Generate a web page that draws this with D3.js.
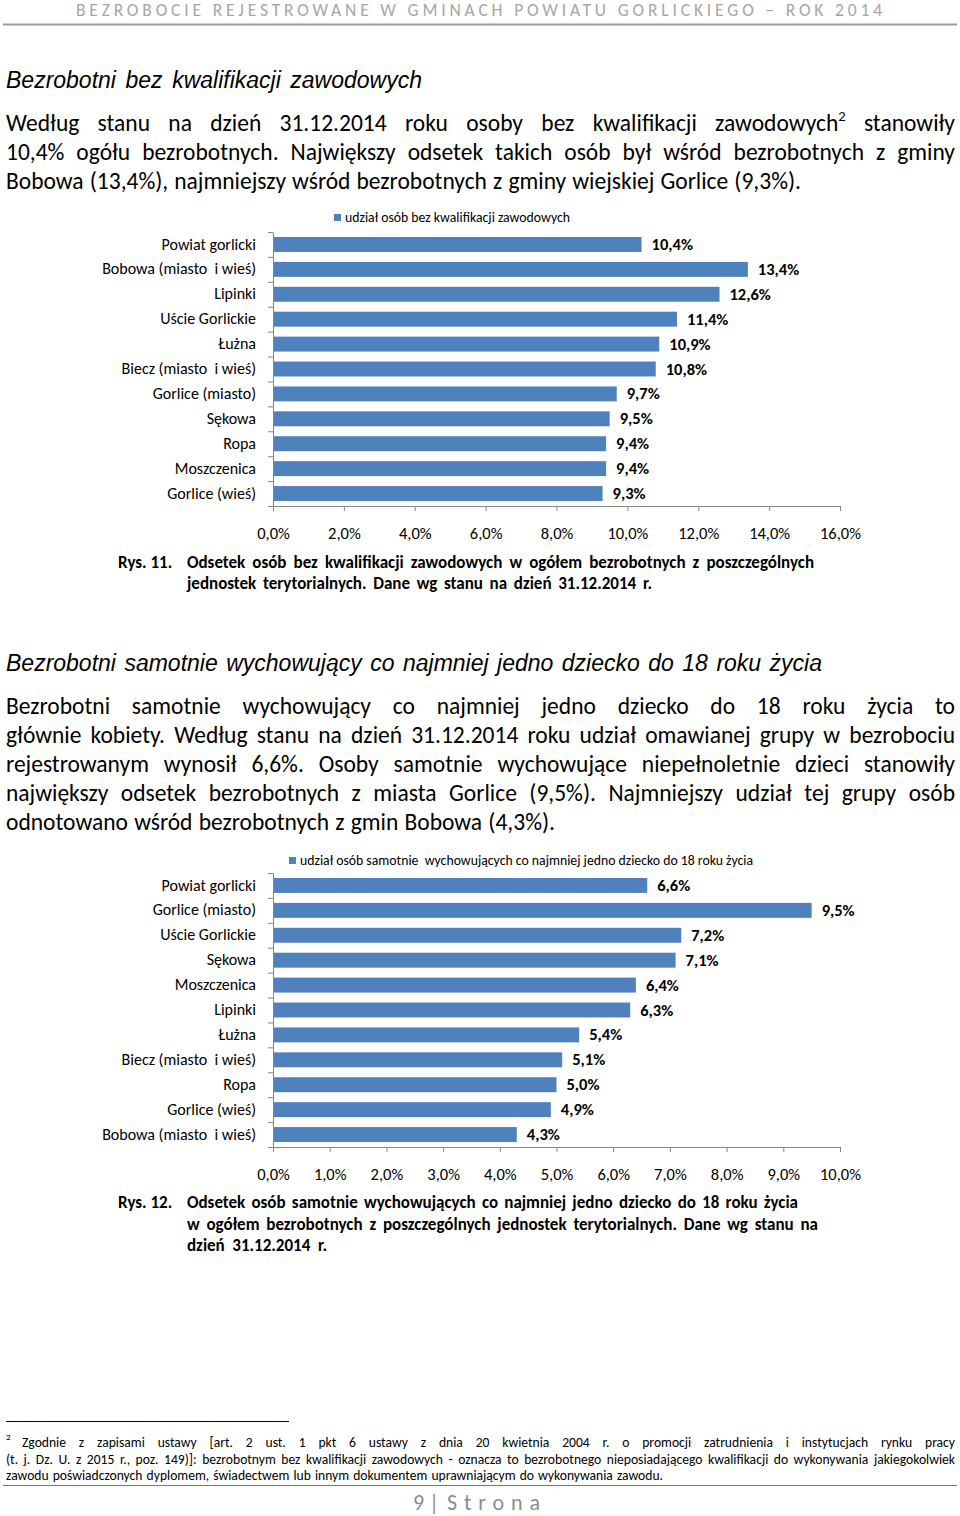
<!DOCTYPE html>
<html><head><meta charset="utf-8">
<script src="https://cdn.jsdelivr.net/npm/d3@7"></script>
<style>body{margin:0;background:#fff}svg{display:block}</style>
</head><body>
<script>
// ---------- DATA ----------
const cats1 = ["Powiat gorlicki","Bobowa (miasto  i wieś)","Lipinki","Uście Gorlickie","Łużna","Biecz (miasto  i wieś)","Gorlice (miasto)","Sękowa","Ropa","Moszczenica","Gorlice (wieś)"];
const vals1 = [10.4,13.4,12.6,11.4,10.9,10.8,9.7,9.5,9.4,9.4,9.3];
const ticks1 = [0,2,4,6,8,10,12,14,16];
const legend1 = "udział osób bez kwalifikacji zawodowych";

const cats2 = ["Powiat gorlicki","Gorlice (miasto)","Uście Gorlickie","Sękowa","Moszczenica","Lipinki","Łużna","Biecz (miasto  i wieś)","Ropa","Gorlice (wieś)","Bobowa (miasto  i wieś)"];
const vals2 = [6.6,9.5,7.2,7.1,6.4,6.3,5.4,5.1,5.0,4.9,4.3];
const ticks2 = [0,1,2,3,4,5,6,7,8,9,10];
const legend2 = "udział osób samotnie  wychowujących co najmniej jedno dziecko do 18 roku życia";

const headerText = "BEZROBOCIE REJESTROWANE W GMINACH POWIATU GORLICKIEGO – ROK 2014";
const heading1 = "Bezrobotni bez kwalifikacji zawodowych";
const heading2 = "Bezrobotni samotnie wychowujący co najmniej jedno dziecko do 18 roku życia";
const para1 = [
  "Według stanu na dzień 31.12.2014 roku osoby bez kwalifikacji zawodowych^2 stanowiły",
  "10,4% ogółu bezrobotnych. Największy odsetek takich osób był wśród bezrobotnych z gminy",
  "Bobowa (13,4%), najmniejszy wśród bezrobotnych z gminy wiejskiej Gorlice (9,3%)."
];
const para2 = [
  "Bezrobotni samotnie wychowujący co najmniej jedno dziecko do 18 roku życia to",
  "głównie kobiety. Według stanu na dzień 31.12.2014 roku udział omawianej grupy w bezrobociu",
  "rejestrowanym wynosił 6,6%. Osoby samotnie wychowujące niepełnoletnie dzieci stanowiły",
  "największy odsetek bezrobotnych z miasta Gorlice (9,5%). Najmniejszy udział tej grupy osób",
  "odnotowano wśród bezrobotnych z gmin Bobowa (4,3%)."
];
const caption1 = ["Odsetek osób bez kwalifikacji zawodowych w ogółem bezrobotnych z poszczególnych",
  "jednostek terytorialnych. Dane wg stanu na dzień 31.12.2014 r."];
const caption2 = ["Odsetek osób samotnie wychowujących co najmniej jedno dziecko do 18 roku życia",
  "w ogółem bezrobotnych z poszczególnych jednostek terytorialnych. Dane wg stanu na",
  "dzień 31.12.2014 r."];
const footnote = [
  "Zgodnie z zapisami ustawy [art. 2 ust. 1 pkt 6 ustawy z dnia 20 kwietnia 2004 r. o promocji zatrudnienia i instytucjach rynku pracy",
  "(t. j. Dz. U. z 2015 r., poz. 149)]: bezrobotnym bez kwalifikacji zawodowych - oznacza to bezrobotnego nieposiadającego kwalifikacji do wykonywania jakiegokolwiek",
  "zawodu poświadczonych dyplomem, świadectwem lub innym dokumentem uprawniającym do wykonywania zawodu."
];

// ---------- SETUP ----------
const W = 960, H = 1516;
const FONT = "Carlito, Calibri, Lato, 'Liberation Sans', Arial, sans-serif";
const ARIAL = "'Liberation Sans', Arial, sans-serif";
const BAR = "#4f81bd", AXIS = "#868686";
const svg = d3.select("body").append("svg").attr("width", W).attr("height", H);

function line(text, x0, x1, y, o) {
  const t = svg.append("text")
    .attr("font-family", o.font || FONT).attr("font-size", o.size)
    .attr("font-weight", o.weight || "normal").attr("font-style", o.style || "normal")
    .attr("fill", o.fill || "#000");
  const items = text.split(" ").map(w => {
    const [main, sup] = w.split("^");
    const m = t.append("tspan").attr("y", y).text(main);
    let s = null;
    if (sup) s = t.append("tspan").attr("y", y - o.size * 0.42).attr("font-size", o.size * 0.62).text(sup);
    const wm = m.node().getComputedTextLength();
    const ws = s ? s.node().getComputedTextLength() : 0;
    return {m, s, wm, w: wm + ws};
  });
  const total = d3.sum(items, d => d.w);
  const gap = items.length > 1 ? (x1 - x0 - total) / (items.length - 1) : 0;
  let x = x0;
  items.forEach(it => { it.m.attr("x", x); if (it.s) it.s.attr("x", x + it.wm); x += it.w + gap; });
}

// ---------- PAGE HEADER ----------
svg.append("text").attr("x", 76).attr("y", 16).attr("font-family", FONT).attr("font-size", 17.5)
  .attr("fill", "#a6a6a6").attr("textLength", 806).attr("lengthAdjust", "spacing").text(headerText);
svg.append("line").attr("x1", 3).attr("x2", 957).attr("y1", 24.5).attr("y2", 24.5)
  .attr("stroke", "#9a9a9a").attr("stroke-width", 2);

// ---------- SECTION 1 ----------
line(heading1, 6, 422, 88, {font: ARIAL, size: 23, style: "italic"});
const p1r = [955, 955, 801];
para1.forEach((s, i) => line(s, 6, p1r[i], 131 + i * 29, {size: 23.5}));

function chart(cfg) {
  const x = d3.scaleLinear().domain([0, cfg.max]).range([273, 840]);
  const y = d3.scaleBand().domain(cfg.cats).range([cfg.y0, cfg.y1]).paddingInner(0.4).paddingOuter(0.2);
  const yi = d3.scaleLinear().domain([0, cfg.cats.length]).range([cfg.y0, cfg.y1]);
  const g = svg.append("g");

  g.selectAll("rect.bar").data(cfg.vals).join("rect").attr("class", "bar")
    .attr("x", x(0)).attr("y", (d, i) => y(cfg.cats[i]))
    .attr("width", d => x(d) - x(0)).attr("height", y.bandwidth()).attr("fill", BAR);

  const ya = g.append("g").attr("transform", `translate(${x(0)},0)`)
    .call(d3.axisLeft(yi).tickValues(d3.range(cfg.cats.length + 1)).tickSize(5).tickSizeOuter(0).tickFormat(""));
  ya.selectAll("path,line").attr("stroke", AXIS);

  const yl = g.append("g").attr("transform", `translate(${x(0)},0)`)
    .call(d3.axisLeft(y).tickSize(0).tickPadding(17));
  yl.select(".domain").remove();
  yl.selectAll("text").attr("font-family", FONT).attr("font-size", 16).attr("fill", "#000").style("white-space", "pre");

  const xa = g.append("g").attr("transform", `translate(0,${cfg.y1})`)
    .call(d3.axisBottom(x).tickValues(cfg.ticks).tickSize(5).tickSizeOuter(0).tickPadding(16)
      .tickFormat(d => d.toFixed(1).replace(".", ",") + "%"));
  xa.selectAll("path,line").attr("stroke", AXIS);
  xa.selectAll("text").attr("font-family", FONT).attr("font-size", 16.5).attr("fill", "#000");

  g.selectAll("text.val").data(cfg.vals).join("text").attr("class", "val")
    .attr("x", d => x(d) + 10).attr("y", (d, i) => y(cfg.cats[i]) + y.bandwidth() / 2 + 5.5)
    .attr("font-family", FONT).attr("font-size", 16.5).attr("font-weight", "bold")
    .text(d => d.toFixed(1).replace(".", ",") + "%");

  g.append("rect").attr("x", cfg.lx).attr("y", cfg.ly - 8).attr("width", 7).attr("height", 7).attr("fill", BAR);
  g.append("text").attr("x", cfg.lx + 11).attr("y", cfg.ly).attr("font-family", FONT).attr("font-size", 13.5)
    .attr("textLength", cfg.lw).attr("lengthAdjust", "spacingAndGlyphs").style("white-space", "pre").text(cfg.legend);
}

chart({cats: cats1, vals: vals1, ticks: ticks1, max: 16, y0: 232, y1: 506,
       lx: 334, ly: 222, lw: 225, legend: legend1});

svg.append("text").attr("x", 118).attr("y", 568).attr("font-family", FONT).attr("font-size", 17)
  .attr("font-weight", "bold").text("Rys. 11.");
const c1r = [814, 652];
caption1.forEach((s, i) => line(s, 187, c1r[i], 568 + i * 21, {size: 17, weight: "bold"}));

// ---------- SECTION 2 ----------
line(heading2, 6, 822, 671, {font: ARIAL, size: 23, style: "italic"});
const p2r = [955, 955, 955, 955, 555];
para2.forEach((s, i) => line(s, 6, p2r[i], 714 + i * 29, {size: 23.5}));

chart({cats: cats2, vals: vals2, ticks: ticks2, max: 10, y0: 873, y1: 1147,
       lx: 289, ly: 865, lw: 453, legend: legend2});

svg.append("text").attr("x", 118).attr("y", 1208).attr("font-family", FONT).attr("font-size", 17)
  .attr("font-weight", "bold").text("Rys. 12.");
const c2r = [798, 818, 327];
caption2.forEach((s, i) => line(s, 187, c2r[i], 1208 + i * 21.5, {size: 17, weight: "bold"}));

// ---------- FOOTNOTE ----------
svg.append("line").attr("x1", 6).attr("x2", 289).attr("y1", 1421.5).attr("y2", 1421.5).attr("stroke", "#000");
svg.append("text").attr("x", 6).attr("y", 1440).attr("font-family", FONT).attr("font-size", 9).text("2");
const fx0 = [22, 6, 6], fx1 = [955, 955, 663];
footnote.forEach((s, i) => line(s, fx0[i], fx1[i], 1447 + i * 16.5, {size: 13.6}));
svg.append("line").attr("x1", 3).attr("x2", 957).attr("y1", 1485.5).attr("y2", 1485.5).attr("stroke", "#777");

svg.append("text").attr("x", 413).attr("y", 1510).attr("font-family", FONT).attr("font-size", 22)
  .attr("fill", "#8c8c8c").text("9 | ");
svg.append("text").attr("x", 447).attr("y", 1510).attr("font-family", FONT).attr("font-size", 22)
  .attr("fill", "#8c8c8c").attr("textLength", 93).attr("lengthAdjust", "spacing").text("Strona");
</script>
</body></html>
